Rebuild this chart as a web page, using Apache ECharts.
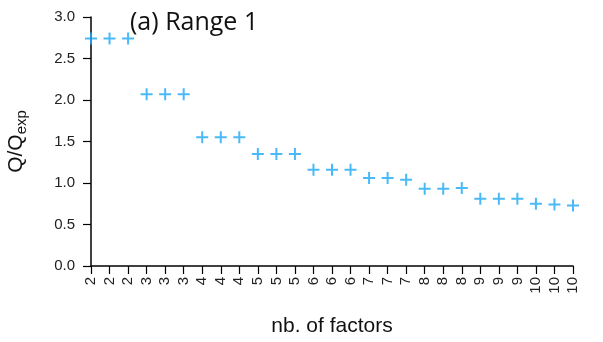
<!DOCTYPE html>
<html>
<head>
<meta charset="utf-8">
<script src="https://cdn.jsdelivr.net/npm/echarts@6/dist/echarts.min.js"></script>
<style>
  html, body { margin: 0; padding: 0; background: #fff; }
  #chart { width: 603px; height: 342px; }
</style>
</head>
<body>
<div id="chart"></div>
<script>
// three runs per number of factors
const factors = ["2", "2", "2", "3", "3", "3", "4", "4", "4", "5", "5", "5", "6", "6", "6",
  "7", "7", "7", "8", "8", "8", "9", "9", "9", "10", "10", "10"];
const qRatio = [2.74, 2.74, 2.74, 2.07, 2.07, 2.07, 1.55, 1.55, 1.55, 1.35, 1.35, 1.35,
  1.16, 1.16, 1.16, 1.06, 1.06, 1.04, 0.93, 0.93, 0.94, 0.81, 0.81, 0.81, 0.75, 0.74, 0.73];
const yTicks = [0, 0.5, 1.0, 1.5, 2.0, 2.5, 3.0];

const plus = "path://M5,0h2v5h5v2h-5v5h-2v-5h-5v-2h5z";
const axisFont = "Liberation Sans";

const chart = echarts.init(document.getElementById("chart"));
chart.setOption({
  animation: false,
  title: {
    text: "(a) Range 1",
    left: 125,
    top: 5,
    textStyle: { fontFamily: "Open Sans", fontSize: 25, fontWeight: "normal", color: "#111" }
  },
  grid: { left: 91, right: 30, top: 17, bottom: 76, outerBoundsMode: "none", containLabel: false },
  xAxis: {
    type: "category",
    data: factors,
    boundaryGap: false,
    name: "nb. of factors",
    nameLocation: "middle",
    nameGap: 50,
    nameTextStyle: { fontFamily: axisFont, fontSize: 21, color: "#111" },
    axisLine: { lineStyle: { color: "#000", width: 1.5 } },
    axisTick: { show: true, length: 8, interval: 0, lineStyle: { color: "#000", width: 1.2 } },
    axisLabel: { interval: 0, rotate: 90, margin: 11, fontFamily: axisFont, fontSize: 15, color: "#222" },
    splitLine: { show: false }
  },
  yAxis: {
    type: "value",
    min: yTicks[0],
    max: yTicks[yTicks.length - 1],
    interval: 0.5,
    name: "{q|Q/Q}{s|exp}",
    nameLocation: "middle",
    nameGap: 62,
    nameRotate: 90,
    nameTextStyle: {
      rich: {
        q: { fontFamily: axisFont, fontSize: 21, color: "#111" },
        s: { fontFamily: axisFont, fontSize: 15, color: "#111", padding: [10, 0, 0, 0] }
      }
    },
    axisLine: { show: true, lineStyle: { color: "#000", width: 1.5 } },
    axisTick: { show: true, length: 8, lineStyle: { color: "#000", width: 1.2 } },
    axisLabel: {
      margin: 16,
      fontFamily: axisFont,
      fontSize: 15,
      color: "#222",
      formatter: (v) => v.toFixed(1)
    },
    splitLine: { show: false }
  },
  series: [
    {
      type: "scatter",
      data: qRatio,
      symbol: plus,
      symbolSize: 12,
      itemStyle: { color: "#1ba8f5" }
    }
  ]
});
</script>
</body>
</html>
